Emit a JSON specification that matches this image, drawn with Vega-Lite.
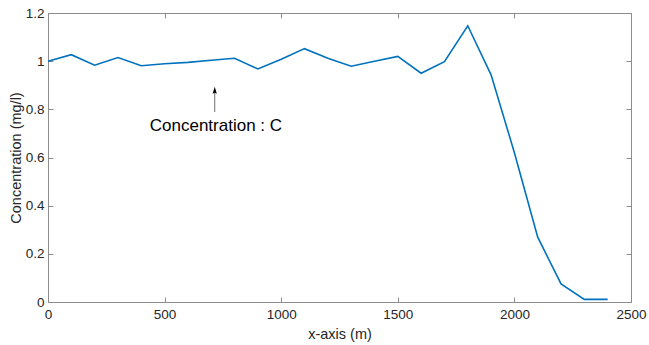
{
  "$schema": "https://vega.github.io/schema/vega-lite/v6.json",
  "width": 583,
  "height": 289,
  "autosize": {"type": "none"},
  "padding": {"left": 48, "top": 13, "right": 18, "bottom": 43},
  "background": "white",
  "datasets": {
    "profile": [
      {"x": 0, "c": 1.0},
      {"x": 100, "c": 1.027},
      {"x": 200, "c": 0.983},
      {"x": 300, "c": 1.015},
      {"x": 400, "c": 0.981},
      {"x": 500, "c": 0.989},
      {"x": 600, "c": 0.995},
      {"x": 700, "c": 1.004},
      {"x": 800, "c": 1.012},
      {"x": 900, "c": 0.968},
      {"x": 1000, "c": 1.008},
      {"x": 1100, "c": 1.052},
      {"x": 1200, "c": 1.012},
      {"x": 1300, "c": 0.979},
      {"x": 1400, "c": 1.0},
      {"x": 1500, "c": 1.02},
      {"x": 1600, "c": 0.95},
      {"x": 1700, "c": 0.998},
      {"x": 1800, "c": 1.147},
      {"x": 1900, "c": 0.943},
      {"x": 2000, "c": 0.62},
      {"x": 2100, "c": 0.269},
      {"x": 2200, "c": 0.075},
      {"x": 2300, "c": 0.011},
      {"x": 2400, "c": 0.011}
    ],
    "note": [
      {"x": 715, "y0": 0.789, "y1": 0.872, "head": 0.879, "tx": 720, "ty": 0.731, "label": "Concentration : C"}
    ]
  },
  "layer": [
    {
      "data": {"name": "profile"},
      "mark": {"type": "line", "color": "#0072BD", "strokeWidth": 1.6},
      "encoding": {
        "x": {
          "field": "x", "type": "quantitative",
          "scale": {"domain": [0, 2500], "nice": false, "zero": false},
          "axis": {
            "orient": "bottom", "values": [0, 500, 1000, 1500, 2000, 2500], "format": "d",
            "labelPadding": 10,
            "title": "x-axis (m)", "titlePadding": 7
          }
        },
        "y": {
          "field": "c", "type": "quantitative",
          "scale": {"domain": [0, 1.2], "nice": false, "zero": false},
          "axis": {
            "orient": "left", "values": [0, 0.2, 0.4, 0.6, 0.8, 1, 1.2], "format": "~g",
            "labelPadding": 9,
            "title": "Concentration (mg/l)", "titlePadding": 2
          }
        }
      }
    },
    {
      "data": {"name": "note"},
      "mark": {"type": "rule", "color": "#6e6e6e", "strokeWidth": 1},
      "encoding": {
        "x": {
          "field": "x", "type": "quantitative",
          "axis": {"orient": "top", "values": [0, 500, 1000, 1500, 2000, 2500], "labels": false, "title": null}
        },
        "y": {
          "field": "y0", "type": "quantitative",
          "axis": {"orient": "right", "values": [0, 0.2, 0.4, 0.6, 0.8, 1, 1.2], "labels": false, "title": null}
        },
        "y2": {"field": "y1"}
      }
    },
    {
      "data": {"name": "note"},
      "mark": {
        "type": "point", "filled": true, "color": "#000000", "opacity": 1,
        "shape": "M0,-1L0.6,1L0,0.7L-0.6,1Z", "size": 49
      },
      "encoding": {
        "x": {"field": "x", "type": "quantitative", "axis": null},
        "y": {"field": "head", "type": "quantitative", "axis": null}
      }
    },
    {
      "data": {"name": "note"},
      "mark": {
        "type": "text", "fontSize": 17, "font": "Liberation Sans",
        "color": "#000000", "align": "center", "baseline": "middle"
      },
      "encoding": {
        "x": {"field": "tx", "type": "quantitative", "axis": null},
        "y": {"field": "ty", "type": "quantitative", "axis": null},
        "text": {"field": "label"}
      }
    }
  ],
  "resolve": {"axis": {"x": "independent", "y": "independent"}},
  "config": {
    "view": {"stroke": "#8c8c8c", "strokeWidth": 1},
    "axis": {
      "grid": false,
      "domain": false,
      "ticks": true,
      "tickSize": -5,
      "tickColor": "#8c8c8c",
      "tickWidth": 1,
      "labelFont": "Liberation Sans",
      "labelFontSize": 13.5,
      "labelColor": "#262626",
      "labelFlush": false,
      "labelOverlap": false,
      "labelPadding": 4,
      "titleFont": "Liberation Sans",
      "titleFontSize": 14.5,
      "titleFontWeight": "normal",
      "titleColor": "#262626"
    }
  }
}
